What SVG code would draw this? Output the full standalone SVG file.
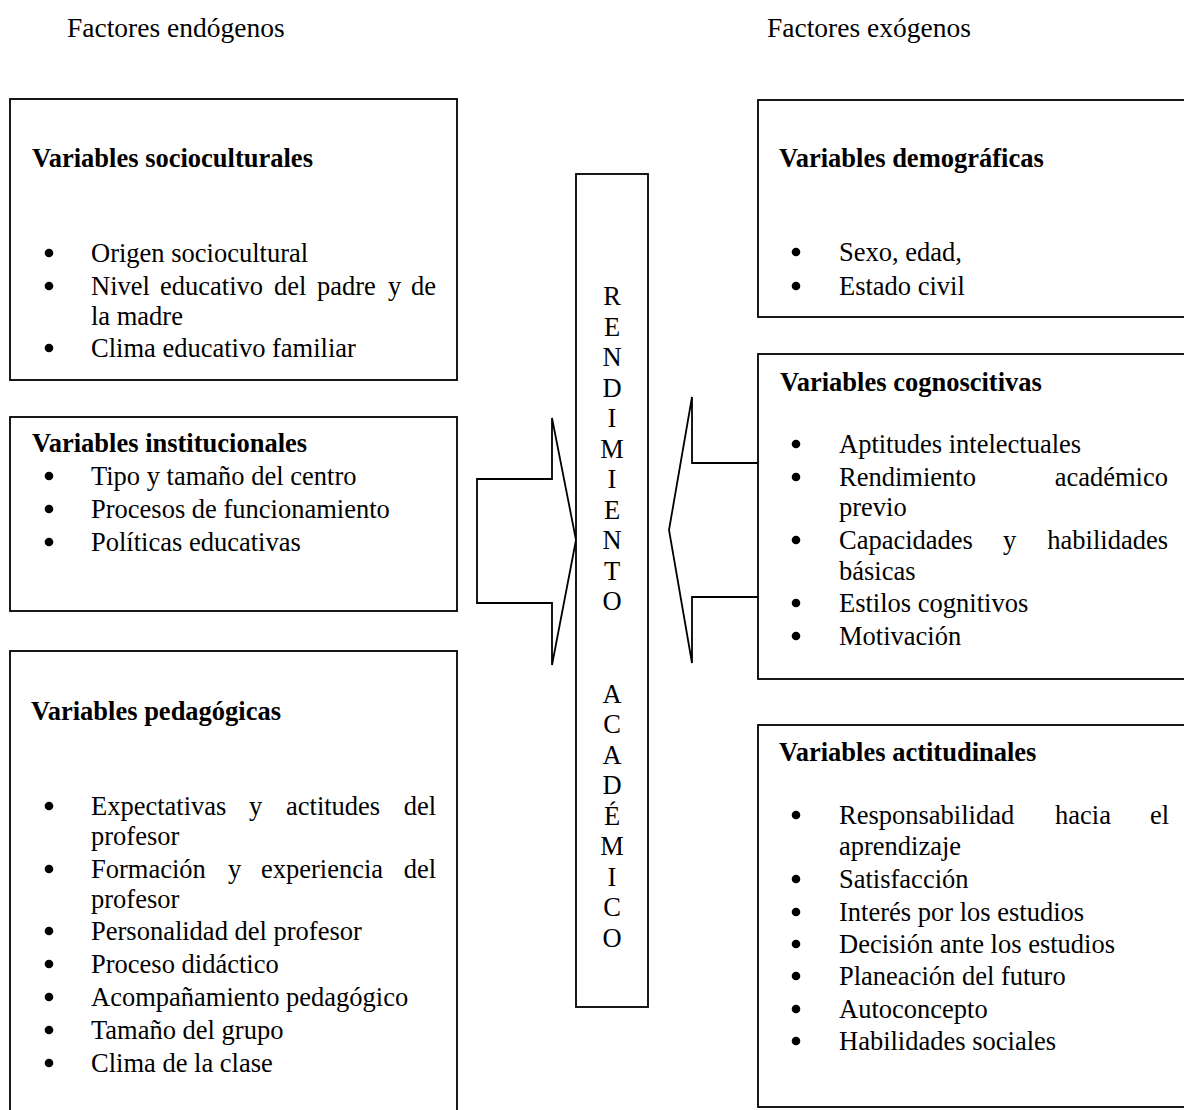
<svg xmlns="http://www.w3.org/2000/svg" width="1184" height="1110" viewBox="0 0 1184 1110">
<style>
text{font-family:"Liberation Serif","Times New Roman",serif;font-size:26.5px;fill:#000}
.t{font-size:27.5px}
.h{font-weight:bold}
.box{fill:#fff;stroke:#000;stroke-width:1.8}
.arrow{fill:#fff;stroke:#000;stroke-width:1.8;stroke-linejoin:miter}
.c{text-anchor:middle}
.e{text-anchor:end}
</style>
<defs>
<circle id="b" cx="0" cy="0" r="4.3" fill="#000"/>
</defs>
<rect width="1184" height="1110" fill="#fff"/>
<g id="titles">
<text class="t" x="67" y="37">Factores endógenos</text>
<text class="t" x="767" y="37">Factores exógenos</text>
</g>
<g id="connectors">
<polygon class="arrow" points="477,479 552,479 552,418 576,540 552,665 552,603 477,603"/>
<polygon class="arrow" points="759,463 692,463 692,397 669,530 692,663 692,597 759,597"/>
</g>
<g id="socioculturales">
<rect class="box" x="10" y="99" width="447" height="281"/>
<text class="h" x="32" y="167">Variables socioculturales</text>
<use href="#b" x="49" y="253"/><text x="91" y="262">Origen sociocultural</text>
<use href="#b" x="49" y="286"/><text x="91" y="295">Nivel</text><text x="160" y="295">educativo</text><text x="274" y="295">del</text><text x="317" y="295">padre</text><text x="388" y="295">y</text><text class="e" x="436" y="295">de</text>
<text x="91" y="325">la madre</text>
<use href="#b" x="49" y="348"/><text x="91" y="357">Clima educativo familiar</text>
</g>
<g id="institucionales">
<rect class="box" x="10" y="417" width="447" height="194"/>
<text class="h" x="32" y="452">Variables institucionales</text>
<use href="#b" x="49" y="476"/><text x="91" y="485">Tipo y tamaño del centro</text>
<use href="#b" x="49" y="509"/><text x="91" y="518">Procesos de funcionamiento</text>
<use href="#b" x="49" y="542"/><text x="91" y="551">Políticas educativas</text>
</g>
<g id="pedagogicas">
<rect class="box" x="10" y="651" width="447" height="480"/>
<text class="h" x="31" y="720">Variables pedagógicas</text>
<use href="#b" x="49" y="806"/><text x="91" y="815">Expectativas</text><text x="249" y="815">y</text><text x="286" y="815">actitudes</text><text class="e" x="436" y="815">del</text>
<text x="91" y="845">profesor</text>
<use href="#b" x="49" y="869"/><text x="91" y="878">Formación</text><text x="228" y="878">y</text><text x="261" y="878">experiencia</text><text class="e" x="436" y="878">del</text>
<text x="91" y="908">profesor</text>
<use href="#b" x="49" y="931"/><text x="91" y="940">Personalidad del profesor</text>
<use href="#b" x="49" y="964"/><text x="91" y="973">Proceso didáctico</text>
<use href="#b" x="49" y="997"/><text x="91" y="1006">Acompañamiento pedagógico</text>
<use href="#b" x="49" y="1030"/><text x="91" y="1039">Tamaño del grupo</text>
<use href="#b" x="49" y="1063"/><text x="91" y="1072">Clima de la clase</text>
</g>
<g id="rendimiento">
<rect class="box" x="576" y="174" width="72" height="833"/>
<text class="c" x="612" y="305">R</text>
<text class="c" x="612" y="335.5">E</text>
<text class="c" x="612" y="366">N</text>
<text class="c" x="612" y="396.5">D</text>
<text class="c" x="612" y="427">I</text>
<text class="c" x="612" y="457.5">M</text>
<text class="c" x="612" y="488">I</text>
<text class="c" x="612" y="518.5">E</text>
<text class="c" x="612" y="549">N</text>
<text class="c" x="612" y="579.5">T</text>
<text class="c" x="612" y="610">O</text>
<text class="c" x="612" y="702.5">A</text>
<text class="c" x="612" y="733">C</text>
<text class="c" x="612" y="763.5">A</text>
<text class="c" x="612" y="794">D</text>
<text class="c" x="612" y="824.5">É</text>
<text class="c" x="612" y="855">M</text>
<text class="c" x="612" y="885.5">I</text>
<text class="c" x="612" y="916">C</text>
<text class="c" x="612" y="946.5">O</text>
</g>
<g id="demograficas">
<rect class="box" x="758" y="100" width="450" height="217"/>
<text class="h" x="779" y="167">Variables demográficas</text>
<use href="#b" x="796" y="252"/><text x="839" y="261">Sexo, edad,</text>
<use href="#b" x="796" y="286"/><text x="839" y="295">Estado civil</text>
</g>
<g id="cognoscitivas">
<rect class="box" x="758" y="354" width="450" height="325"/>
<text class="h" x="780" y="391">Variables cognoscitivas</text>
<use href="#b" x="796" y="444"/><text x="839" y="453">Aptitudes intelectuales</text>
<use href="#b" x="796" y="477"/><text x="839" y="486">Rendimiento</text><text class="e" x="1168" y="486">académico</text>
<text x="839" y="516">previo</text>
<use href="#b" x="796" y="540"/><text x="839" y="549">Capacidades</text><text x="1003" y="549">y</text><text class="e" x="1168" y="549">habilidades</text>
<text x="839" y="580">básicas</text>
<use href="#b" x="796" y="603"/><text x="839" y="612">Estilos cognitivos</text>
<use href="#b" x="796" y="636"/><text x="839" y="645">Motivación</text>
</g>
<g id="actitudinales">
<rect class="box" x="758" y="725" width="450" height="382"/>
<text class="h" x="779" y="761">Variables actitudinales</text>
<use href="#b" x="796" y="815"/><text x="839" y="824">Responsabilidad</text><text x="1055" y="824">hacia</text><text class="e" x="1169" y="824">el</text>
<text x="839" y="855">aprendizaje</text>
<use href="#b" x="796" y="879"/><text x="839" y="888">Satisfacción</text>
<use href="#b" x="796" y="912"/><text x="839" y="921">Interés por los estudios</text>
<use href="#b" x="796" y="944"/><text x="839" y="953">Decisión ante los estudios</text>
<use href="#b" x="796" y="976"/><text x="839" y="985">Planeación del futuro</text>
<use href="#b" x="796" y="1009"/><text x="839" y="1018">Autoconcepto</text>
<use href="#b" x="796" y="1041"/><text x="839" y="1050">Habilidades sociales</text>
</g>
</svg>
